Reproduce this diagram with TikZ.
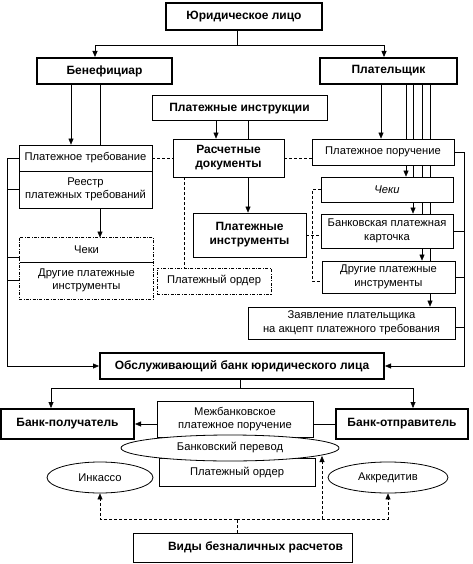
\documentclass[tikz,border=0pt]{standalone}
\usepackage{fontspec}
\setmainfont{Liberation Sans}
\usetikzlibrary{arrows.meta,shapes.geometric,backgrounds,calc}
\begin{document}
\begin{tikzpicture}[x=1pt,y=-1pt,line width=0.8pt,
  bx/.style={draw, fill=white, line width=0.8pt, inner sep=1pt, align=center, font=\fontsize{11.2}{13.5}\selectfont},
  thk/.style={line width=2pt},
  bld/.style={font=\fontsize{12}{14}\selectfont\bfseries},
  arr/.style={-{Triangle[length=6pt,width=5pt]}},
  dsh/.style={dash pattern=on 3pt off 2pt},
  dd/.style={dash pattern=on 3pt off 1.5pt on 0.8pt off 1.5pt},
  el/.style={draw, ellipse, fill=white, inner sep=0pt, font=\fontsize{11.2}{13.5}\selectfont}]
\useasboundingbox (0,0) rectangle (473,564);

% top
\node[bx,thk,bld,minimum width=156pt,minimum height=27pt] (jur) at (244,16.5) {Юридическое лицо};
\node[bx,thk,bld,minimum width=135pt,minimum height=26pt] (ben) at (104.5,71) {Бенефициар};
\node[bx,thk,bld,minimum width=137pt,minimum height=26pt] (plat) at (388.5,71) {Плательщик};

% middle
\node[bx,bld,line width=1pt,minimum width=175pt,minimum height=25pt] (instr) at (239.5,108.5) {Платежные инструкции};
\node[bx,bld,minimum width=111pt,minimum height=38pt] (ras) at (228.5,158) {Расчетные\\документы};
\node[bx,bld,minimum width=113pt,minimum height=44pt] (pinstr) at (249.5,235) {Платежные\\инструменты};

% left column
\node[bx,minimum width=133pt,minimum height=26pt] (ptreb) at (85.5,158) {Платежное требование};
\node[bx,minimum width=133pt,minimum height=37pt] (reestr) at (85.5,189.5) {Реестр\\платежных требований};
\node[bx,draw=none,minimum width=133pt,minimum height=24pt] (cheki1) at (86.5,250) {Чеки};
\node[bx,draw=none,minimum width=133pt,minimum height=37pt] (drug1) at (86.5,280.5) {Другие платежные\\инструменты};
\draw[dd] (cheki1.north west) rectangle (drug1.south east);
\draw (cheki1.south west) -- (cheki1.south east);
\node[bx,dd,minimum width=114pt,minimum height=26pt] (pord1) at (214,281) {Платежный ордер};

% right column
\node[bx,minimum width=142pt,minimum height=26pt] (ppor) at (383,152) {Платежное поручение};
\node[bx,minimum width=132pt,minimum height=25pt,font=\fontsize{11.2}{13.5}\selectfont\itshape] (cheki2) at (387,189.5) {Чеки};
\node[bx,minimum width=132pt,minimum height=34pt] (bcard) at (387,231) {Банковская платежная\\карточка};
\node[bx,minimum width=133pt,minimum height=32pt] (drug2) at (388.5,277) {Другие платежные\\инструменты};
\node[bx,minimum width=207pt,minimum height=32pt] (zayav) at (351.5,323) {Заявление плательщика\\на акцепт платежного требования};

% banks
\node[bx,thk,bld,minimum width=284pt,minimum height=26pt] (obsl) at (242,366) {Обслуживающий банк юридического лица};
\node[bx,thk,bld,minimum width=133pt,minimum height=30pt] (bpol) at (67.5,424) {Банк-получатель};
\node[bx,thk,bld,minimum width=132pt,minimum height=30pt] (botp) at (402,424) {Банк-отправитель};
\node[bx,minimum width=156pt,minimum height=36pt] (mezh) at (235,419) {Межбанковское\\платежное поручение};
\node[bx,minimum width=156pt,minimum height=28pt] (pord2) at (237,472) {Платежный ордер};
\node[el,minimum width=218pt,minimum height=26pt] (bper) at (230,448) {Банковский перевод};
\node[el,minimum width=106pt,minimum height=31pt] (ink) at (100,477.5) {Инкассо};
\node[el,minimum width=120pt,minimum height=31pt] (akkr) at (388,477.5) {Аккредитив};
\node[bx,bld,minimum width=219pt,minimum height=29pt] (vidy) at (242.5,547.5) {\hspace*{26pt}Виды безналичных расчетов};

% coordinates
\coordinate (jm) at (237,45);
\coordinate (cb) at (95,0);
\coordinate (cp) at (384,0);
\coordinate (b1) at (71,0);
\coordinate (b2) at (100,0);
\coordinate (lb) at (7,0);
\coordinate (i1) at (216,0);
\coordinate (i2) at (248,0);
\coordinate (r1) at (184,0);
\coordinate (db) at (312,0);
\coordinate (rb) at (464,0);
\coordinate (p1) at (381,0);
\coordinate (p2) at (406,0);
\coordinate (p3) at (413,0);
\coordinate (p4) at (422,0);
\coordinate (p5) at (430,0);
\coordinate (om) at (240,388);
\coordinate (c51) at (51,0);
\coordinate (c413) at (413,0);
\coordinate (vm) at (237,519);
\coordinate (bpt) at (322,456);

% top connectors
\draw (jm |- jur.south) -- (jm);
\draw[arr] (jm) -| (cb |- ben.north);
\draw[arr] (jm) -| (cp |- plat.north);

\begin{pgfonlayer}{background}
\draw[arr] (b1 |- ben.south) -- (b1 |- ptreb.north);
\draw[arr] (b2 |- ben.south) -- (b2 |- cheki1.north);
\draw[arr] (p1 |- plat.south) -- (p1 |- ppor.north);
\draw[arr] (p2 |- plat.south) -- (p2 |- cheki2.north);
\draw[arr] (p3 |- plat.south) -- (p3 |- bcard.north);
\draw[arr] (p4 |- plat.south) -- (p4 |- drug2.north);
\draw[arr] (p5 |- plat.south) -- (p5 |- zayav.north);
\end{pgfonlayer}

% left bus
\draw[arr] (ptreb.west) -| (lb |- obsl.west) -- (obsl.west);
\draw (reestr.west) -- (lb |- reestr.west);
\draw ($(cheki1.west)+(0,7)$) -- (lb |- {$(cheki1.west)+(0,7)$});
\draw (drug1.west) -- (lb |- drug1.west);

% instructions
\draw[arr] (i1 |- instr.south) -- (i1 |- ras.north);
\draw (i2 |- instr.south) -- (i2 |- ras.north);
\draw[arr] (i2 |- ras.south) -- (i2 |- pinstr.north);

% dashed links
\draw[dsh] (ptreb.east) -- (ras.west);
\draw[dsh] (ras.east) -- (ras.east -| ppor.west);
\draw[dsh] (r1 |- ras.south) -- (r1 |- pord1.north);
\draw[dsh] (cheki2.west) -| (db |- {$(drug2.west)+(0,4)$}) -- ($(drug2.west)+(0,4)$);
\draw[dsh] (pinstr.east) -- (pinstr.east -| bcard.west);

% right bus
\draw[arr] (ppor.east) -| (rb |- obsl.east) -- (obsl.east);
\draw (bcard.east) -- (rb |- bcard.east);
\draw (drug2.east) -- (rb |- drug2.east);
\draw ($(zayav.east)+(0,4)$) -- (rb |- {$(zayav.east)+(0,4)$});

% banks
\draw (om |- obsl.south) -- (om);
\draw[arr] (om) -| (c51 |- bpol.north);
\draw[arr] (om) -| (c413 |- botp.north);
\draw[arr] (bpol.east -| mezh.west) -- (bpol.east);
\draw (mezh.east |- botp.west) -- (botp.west);

% bottom dashed
\draw[dsh] (vm |- vidy.north) -- (vm);
\draw[dsh,arr] (vm) -| (ink.south);
\draw[dsh,arr] (vm) -| (akkr.south);
\draw[dsh,arr] (vm) -| (bpt);
\end{tikzpicture}
\end{document}
